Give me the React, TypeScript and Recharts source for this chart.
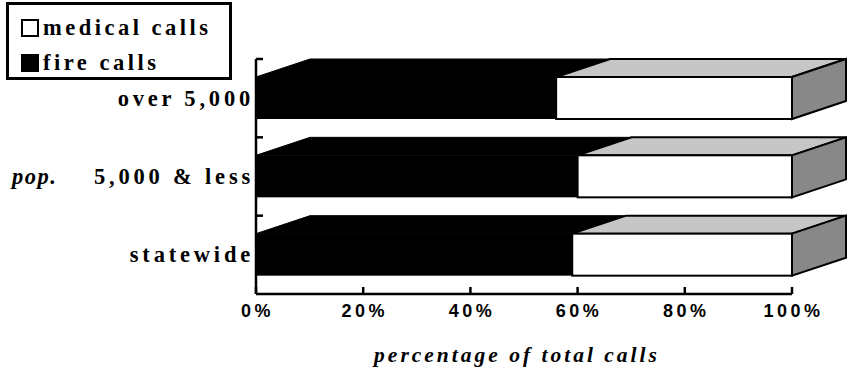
import React from 'react';
import { BarChart, Bar, XAxis, YAxis, Legend } from 'recharts';

const categories = ['over 5,000', '5,000 & less', 'statewide'];
const fireCalls = [56, 60, 59];
const medicalCalls = [44, 40, 41];
const xTicks = [0, 20, 40, 60, 80, 100];
const popLabel = 'pop.';
const xAxisTitle = 'percentage of total calls';
const legendItems = [
  { key: 'medical', label: 'medical calls' },
  { key: 'fire', label: 'fire calls' },
];

const data = categories.map((name, i) => ({ name, fire: fireCalls[i], medical: medicalCalls[i] }));

const DX = 54;
const DY = 18;
const SERIF = '"Liberation Serif", "Times New Roman", serif';
const SANS = '"Liberation Sans", Arial, sans-serif';
const TOP_GRAY = '#c6c6c6';
const SIDE_GRAY = '#888888';

function FireShape(props: any) {
  const { x, y, width, height } = props;
  if (width == null || height == null || isNaN(x)) return null;
  const x1 = x + width;
  const top = `${x},${y} ${x1},${y} ${x1 + DX},${y - DY} ${x + DX},${y - DY}`;
  const side = `${x1},${y} ${x1 + DX},${y - DY} ${x1 + DX},${y + height - DY} ${x1},${y + height}`;
  return (
    <g>
      <polygon points={top} fill="#000" stroke="#000" strokeWidth={1} />
      <polygon points={side} fill="#000" stroke="#000" strokeWidth={1} />
      <rect x={x} y={y} width={width} height={height} fill="#000" />
    </g>
  );
}

function MedicalShape(props: any) {
  const { x, y, width, height } = props;
  if (width == null || height == null || isNaN(x)) return null;
  const x1 = x + width;
  const top = `${x},${y} ${x1},${y} ${x1 + DX},${y - DY} ${x + DX},${y - DY}`;
  const side = `${x1},${y} ${x1 + DX},${y - DY} ${x1 + DX},${y + height - DY} ${x1},${y + height}`;
  return (
    <g>
      <polygon points={top} fill={TOP_GRAY} stroke="#000" strokeWidth={2} strokeLinejoin="miter" />
      <polygon points={side} fill={SIDE_GRAY} stroke="#000" strokeWidth={2} strokeLinejoin="miter" />
      <rect x={x} y={y} width={width} height={height} fill="#fff" stroke="#000" strokeWidth={2} />
    </g>
  );
}

function YTick(props: any) {
  const { x, y, payload } = props;
  const half = payload && typeof payload.offset === 'number' && payload.offset > 0 ? payload.offset : 39;
  return (
    <g>
      <line x1={x} x2={x + 7} y1={y - half} y2={y - half} stroke="#000" strokeWidth={2.5} />
      <text
        x={x - 2}
        y={y}
        textAnchor="end"
        dominantBaseline="central"
        fontFamily={SERIF}
        fontWeight="bold"
        fontSize={22.5}
        letterSpacing={3.8}
        fill="#000"
      >
        {payload.value}
      </text>
    </g>
  );
}

function XTick(props: any) {
  const { x, y, payload } = props;
  return (
    <g>
      <line x1={x} x2={x} y1={y} y2={y - 7} stroke="#000" strokeWidth={2.5} />
      <text
        x={x + 1.5}
        y={y + 17}
        textAnchor="middle"
        dominantBaseline="central"
        fontFamily={SANS}
        fontWeight="bold"
        fontSize={18}
        letterSpacing={3.5}
        fill="#000"
      >
        {`${payload.value}%`}
      </text>
    </g>
  );
}

function PopLabel(props: any) {
  const vb = props.viewBox || { x: 0, y: 0, width: 0, height: 0 };
  return (
    <text
      x={vb.x + 12}
      y={vb.y + vb.height / 2}
      textAnchor="start"
      dominantBaseline="central"
      fontFamily={SERIF}
      fontWeight="bold"
      fontStyle="italic"
      fontSize={22.5}
      letterSpacing={1.5}
      fill="#000"
    >
      {popLabel}
    </text>
  );
}

function XTitle(props: any) {
  const vb = props.viewBox || { x: 0, y: 0, width: 0, height: 0 };
  return (
    <text
      x={vb.x + vb.width / 2 - 7}
      y={vb.y + 61}
      textAnchor="middle"
      dominantBaseline="central"
      fontFamily={SERIF}
      fontWeight="bold"
      fontStyle="italic"
      fontSize={21.5}
      letterSpacing={3}
      fill="#000"
    >
      {xAxisTitle}
    </text>
  );
}

function LegendBox() {
  return (
    <div
      style={{
        border: '3px solid #000',
        width: 226,
        height: 78,
        boxSizing: 'border-box',
        background: '#fff',
        fontFamily: SERIF,
        fontWeight: 'bold',
        fontSize: 22.5,
        letterSpacing: 3.5,
        color: '#000',
        paddingLeft: 12,
        paddingTop: 5,
      }}
    >
      {legendItems.map((item) => (
        <div key={item.key} style={{ display: 'flex', alignItems: 'center', height: 35 }}>
          <span
            style={{
              display: 'inline-block',
              width: 18,
              height: 18,
              boxSizing: 'border-box',
              border: '2px solid #000',
              background: item.key === 'fire' ? '#000' : '#fff',
              marginRight: 4,
            }}
          />
          <span style={{ lineHeight: '22px' }}>{item.label}</span>
        </div>
      ))}
    </div>
  );
}

export default function App() {
  return (
    <div style={{ position: 'absolute', left: 0, top: 0, width: 848, height: 377, background: '#fff' }}>
      <BarChart
        width={848}
        height={377}
        data={data}
        layout="vertical"
        margin={{ top: 59, right: 56, bottom: 23, left: 0 }}
        barSize={42}
      >
        <XAxis
          type="number"
          domain={[0, 100]}
          ticks={xTicks}
          height={60}
          tickSize={0}
          tickMargin={0}
          tickLine={false}
          axisLine={{ stroke: '#000', strokeWidth: 2.5 }}
          tick={<XTick />}
          interval={0}
          label={<XTitle />}
        />
        <YAxis
          type="category"
          dataKey="name"
          width={256}
          tickSize={0}
          tickMargin={0}
          tickLine={false}
          axisLine={{ stroke: '#000', strokeWidth: 2.5 }}
          tick={<YTick />}
          interval={0}
          label={<PopLabel />}
        />
        <Legend
          layout="horizontal"
          verticalAlign="middle"
          align="center"
          wrapperStyle={{ left: 6, top: 2, width: 'auto', height: 'auto' }}
          content={<LegendBox />}
        />
        <Bar dataKey="fire" stackId="a" fill="#000" shape={<FireShape />} isAnimationActive={false} />
        <Bar dataKey="medical" stackId="a" fill="#fff" shape={<MedicalShape />} isAnimationActive={false} />
      </BarChart>
    </div>
  );
}
